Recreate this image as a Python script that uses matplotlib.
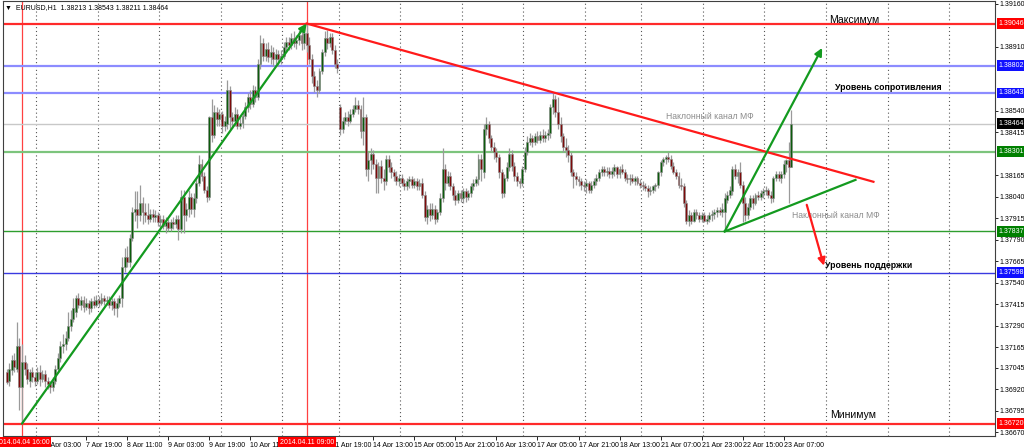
import numpy as np
import matplotlib
matplotlib.use("Agg")
import matplotlib.pyplot as plt
from matplotlib.transforms import blended_transform_factory

plt.rcParams['font.family'] = ['Liberation Sans', 'DejaVu Sans']

# EURUSD H1 candles (index = bar number)
opens = [
    1.3702, 1.3697, 1.3703, 1.3709, 1.3704, 1.3717, 1.3693, 1.3708, 1.3704, 1.3697,
    1.3702, 1.3699, 1.3697, 1.3702, 1.3698, 1.3701, 1.3697, 1.3695, 1.3693, 1.3697,
    1.3704, 1.3710, 1.3717, 1.3718, 1.3722, 1.3729, 1.3733, 1.3737, 1.3745, 1.3741,
    1.3744, 1.3740, 1.3742, 1.3739, 1.3743, 1.3741, 1.3744, 1.3742, 1.3745, 1.3743,
    1.3744, 1.3741, 1.3743, 1.3739, 1.3742, 1.3745, 1.3763, 1.3769, 1.3766, 1.3780,
    1.3795, 1.3797, 1.3793, 1.3800, 1.3795, 1.3793, 1.3791, 1.3794, 1.3792, 1.3793,
    1.3789, 1.3791, 1.3787, 1.3789, 1.3786, 1.3789, 1.3788, 1.3791, 1.3785, 1.3804,
    1.3793, 1.3797, 1.3804, 1.3797, 1.3803, 1.3812, 1.3823, 1.3816, 1.3808, 1.3804,
    1.3850, 1.3840, 1.3853, 1.3849, 1.3852, 1.3845, 1.3846, 1.3866, 1.3850, 1.3848,
    1.3852, 1.3845, 1.3847, 1.3851, 1.3856, 1.3862, 1.3858, 1.3866, 1.3862, 1.3881,
    1.3893, 1.3886, 1.3890, 1.3885, 1.3888, 1.3884, 1.3887, 1.3884, 1.3886, 1.3891,
    1.3894, 1.3892, 1.3896, 1.3893, 1.3895, 1.3898, 1.3893, 1.3899, 1.3892, 1.3884,
    1.3874, 1.3868, 1.3866, 1.3877, 1.3888, 1.3896, 1.3893, 1.3897, 1.3889, 1.3881,
    1.3856, 1.3843, 1.3848, 1.3850, 1.3848, 1.3852, 1.3855, 1.3857, 1.3855, 1.3842,
    1.3850, 1.3820, 1.3825, 1.3829, 1.3823, 1.3815, 1.3822, 1.3815, 1.3813, 1.3826,
    1.3821, 1.3818, 1.3816, 1.3813, 1.3815, 1.3812, 1.3810, 1.3813, 1.3814, 1.3811,
    1.3813, 1.3810, 1.3812, 1.3805, 1.3792, 1.3797, 1.3793, 1.3797, 1.3791, 1.3795,
    1.3803, 1.3820, 1.3812, 1.3816, 1.3810, 1.3805, 1.3802, 1.3806, 1.3803, 1.3807,
    1.3804, 1.3806, 1.3810, 1.3812, 1.3814, 1.3826, 1.3818, 1.3843, 1.3846, 1.3838,
    1.3833, 1.3830, 1.3827, 1.3818, 1.3806, 1.3815, 1.3821, 1.3829, 1.3822, 1.3816,
    1.3813, 1.3812, 1.3820, 1.3830, 1.3836, 1.3838, 1.3836, 1.3839, 1.3837, 1.3840,
    1.3838, 1.3840, 1.3841, 1.3856, 1.3861, 1.3853, 1.3846, 1.3839, 1.3833, 1.3831,
    1.3828, 1.3818, 1.3816, 1.3814, 1.3813, 1.3811, 1.3810, 1.3812, 1.3808, 1.3811,
    1.3813, 1.3815, 1.3818, 1.3820, 1.3818, 1.3819, 1.3817, 1.3819, 1.3821, 1.3817,
    1.3820, 1.3818, 1.3815, 1.3814, 1.3815, 1.3813, 1.3815, 1.3812, 1.3811, 1.3810,
    1.3809, 1.3807, 1.3808, 1.3810, 1.3811, 1.3818, 1.3824, 1.3826, 1.3827, 1.3826,
    1.3822, 1.3818, 1.3816, 1.3811, 1.3810, 1.3800, 1.3790, 1.3793, 1.3790, 1.3795,
    1.3793, 1.3791, 1.3793, 1.3790, 1.3791, 1.3793, 1.3794, 1.3795, 1.3796, 1.3795,
    1.3795, 1.3802, 1.3805, 1.3807, 1.3820, 1.3816, 1.3818, 1.3811, 1.3800, 1.3793,
    1.3798, 1.3803, 1.3800, 1.3805, 1.3804, 1.3806, 1.3807, 1.3808, 1.3805, 1.3803,
    1.3815, 1.3817, 1.3815, 1.3817, 1.3823, 1.3825, 1.38213,
]
highs = [
    1.3704, 1.3707, 1.3712, 1.3713, 1.3731, 1.3722, 1.3718, 1.3712, 1.3707, 1.3704,
    1.3705, 1.3702, 1.3705, 1.3706, 1.3703, 1.3703, 1.3699, 1.3697, 1.3699, 1.3706,
    1.3713, 1.3720, 1.3724, 1.3726, 1.3737, 1.3738, 1.3745, 1.3747, 1.3748, 1.3746,
    1.3746, 1.3745, 1.3744, 1.3745, 1.3746, 1.3747, 1.3746, 1.3748, 1.3747, 1.3746,
    1.3746, 1.3745, 1.3745, 1.3745, 1.3747, 1.3769, 1.3774, 1.3775, 1.3782, 1.3798,
    1.3807, 1.3807, 1.3811, 1.3804, 1.3800, 1.3800, 1.3797, 1.3797, 1.3796, 1.3795,
    1.3793, 1.3793, 1.3792, 1.3791, 1.3791, 1.3792, 1.3793, 1.3793, 1.3808, 1.3808,
    1.3800, 1.3808, 1.3806, 1.3806, 1.3815, 1.3828, 1.3826, 1.3818, 1.3810, 1.3851,
    1.3861, 1.3857, 1.3856, 1.3855, 1.3854, 1.3851, 1.3872, 1.3868, 1.3853, 1.3856,
    1.3855, 1.3850, 1.3853, 1.3859, 1.3864, 1.3866, 1.3869, 1.3868, 1.3884, 1.3898,
    1.3896, 1.3893, 1.3894, 1.3892, 1.3891, 1.3890, 1.3889, 1.3889, 1.3894, 1.3897,
    1.3897, 1.3899, 1.3900, 1.3898, 1.3901, 1.3902, 1.3902, 1.39046, 1.3897, 1.3887,
    1.3877, 1.3872, 1.3879, 1.3890, 1.3900, 1.3901, 1.3899, 1.3899, 1.3892, 1.3884,
    1.3858, 1.3850, 1.3853, 1.3854, 1.3855, 1.3857, 1.3862, 1.3860, 1.3857, 1.3862,
    1.3852, 1.3830, 1.3832, 1.3831, 1.3826, 1.3824, 1.3825, 1.3820, 1.3828, 1.3828,
    1.3824, 1.3820, 1.3819, 1.3817, 1.3817, 1.3814, 1.3815, 1.3816, 1.3816, 1.3815,
    1.3815, 1.3814, 1.3815, 1.3807, 1.3799, 1.3800, 1.3800, 1.3799, 1.3797, 1.3806,
    1.3832, 1.3823, 1.3819, 1.3818, 1.3812, 1.3808, 1.3808, 1.3808, 1.3809, 1.3809,
    1.3808, 1.3812, 1.3814, 1.3816, 1.3829, 1.3829, 1.3846, 1.3850, 1.3848, 1.3840,
    1.3836, 1.3832, 1.3829, 1.3820, 1.3817, 1.3824, 1.3832, 1.3831, 1.3824, 1.3818,
    1.3815, 1.3822, 1.3833, 1.3839, 1.3841, 1.3840, 1.3841, 1.3842, 1.3842, 1.3843,
    1.3842, 1.3843, 1.3858, 1.38643, 1.3863, 1.3862, 1.3850, 1.3841, 1.3838, 1.3834,
    1.3830, 1.3820, 1.3818, 1.3816, 1.3815, 1.3813, 1.3814, 1.3813, 1.3813, 1.3815,
    1.3817, 1.3820, 1.3822, 1.3822, 1.3821, 1.3821, 1.3821, 1.3823, 1.3822, 1.3822,
    1.3823, 1.3820, 1.3817, 1.3817, 1.3817, 1.3816, 1.3816, 1.3814, 1.3813, 1.3812,
    1.3811, 1.3810, 1.3811, 1.3812, 1.3819, 1.3825, 1.3827, 1.3828, 1.3830, 1.3828,
    1.3824, 1.3820, 1.3818, 1.3815, 1.3812, 1.3802, 1.3796, 1.3795, 1.3797, 1.3797,
    1.3795, 1.3795, 1.3795, 1.3793, 1.3795, 1.3796, 1.3797, 1.3798, 1.3798, 1.3800,
    1.3806, 1.3807, 1.3810, 1.3822, 1.3823, 1.3820, 1.3824, 1.3813, 1.3804, 1.3800,
    1.3805, 1.3805, 1.3806, 1.3807, 1.3808, 1.3809, 1.3810, 1.3809, 1.3807, 1.3816,
    1.3819, 1.3819, 1.3819, 1.3825, 1.3826, 1.3836, 1.38543,
]
lows = [
    1.3695, 1.3694, 1.3700, 1.3702, 1.3702, 1.3680, 1.3672, 1.3700, 1.3695, 1.3693,
    1.3696, 1.3694, 1.3695, 1.3694, 1.3696, 1.3693, 1.3692, 1.3690, 1.3691, 1.3695,
    1.3702, 1.3708, 1.3713, 1.3715, 1.3720, 1.3726, 1.3731, 1.3734, 1.3739, 1.3738,
    1.3737, 1.3738, 1.3736, 1.3737, 1.3739, 1.3740, 1.3740, 1.3741, 1.3741, 1.3741,
    1.3739, 1.3738, 1.3735, 1.3734, 1.3740, 1.3740, 1.3760, 1.3763, 1.3763, 1.3778,
    1.3790, 1.3786, 1.3790, 1.3788, 1.3789, 1.3788, 1.3789, 1.3789, 1.3789, 1.3787,
    1.3786, 1.3785, 1.3783, 1.3784, 1.3784, 1.3785, 1.3786, 1.3779, 1.3783, 1.3783,
    1.3790, 1.3792, 1.3794, 1.3792, 1.3800, 1.3810, 1.3813, 1.3806, 1.3801, 1.3802,
    1.3836, 1.3838, 1.3845, 1.3845, 1.3841, 1.3842, 1.3843, 1.3843, 1.3844, 1.3845,
    1.3843, 1.3843, 1.3844, 1.3849, 1.3853, 1.3855, 1.3856, 1.3859, 1.3860, 1.3878,
    1.3883, 1.3883, 1.3882, 1.3881, 1.3880, 1.3881, 1.3880, 1.3881, 1.3884, 1.3888,
    1.3889, 1.3890, 1.3891, 1.3890, 1.3892, 1.3889, 1.3890, 1.3888, 1.3881, 1.3870,
    1.3865, 1.3862, 1.3864, 1.3875, 1.3886, 1.3890, 1.3891, 1.3887, 1.3879, 1.3876,
    1.3840, 1.3841, 1.3846, 1.3845, 1.3847, 1.3850, 1.3853, 1.3852, 1.3838, 1.3834,
    1.3816, 1.3813, 1.3817, 1.3820, 1.3806, 1.3806, 1.3812, 1.3808, 1.3811, 1.3818,
    1.3815, 1.3813, 1.3811, 1.3810, 1.3810, 1.3808, 1.3808, 1.3809, 1.3809, 1.3809,
    1.3808, 1.3808, 1.3803, 1.3790, 1.3788, 1.3790, 1.3791, 1.3788, 1.3789, 1.3793,
    1.3801, 1.3808, 1.3810, 1.3808, 1.3802, 1.3799, 1.3800, 1.3801, 1.3800, 1.3801,
    1.3802, 1.3804, 1.3808, 1.3810, 1.3811, 1.3813, 1.3815, 1.3840, 1.3835, 1.3830,
    1.3826, 1.3824, 1.3815, 1.3803, 1.3804, 1.3813, 1.3819, 1.3819, 1.3813, 1.3810,
    1.3809, 1.3810, 1.3818, 1.3828, 1.3834, 1.3833, 1.3834, 1.3835, 1.3835, 1.3836,
    1.3836, 1.3837, 1.3838, 1.3852, 1.3850, 1.3843, 1.3836, 1.3830, 1.3827, 1.3824,
    1.3816, 1.3809, 1.3811, 1.3810, 1.3808, 1.3807, 1.3806, 1.3806, 1.3806, 1.3809,
    1.3811, 1.3813, 1.3816, 1.3816, 1.3816, 1.3815, 1.3815, 1.3816, 1.3815, 1.3815,
    1.3817, 1.3813, 1.3812, 1.3811, 1.3812, 1.3811, 1.3811, 1.3809, 1.3808, 1.3807,
    1.3804, 1.3805, 1.3806, 1.3807, 1.3809, 1.3816, 1.3822, 1.3823, 1.3824, 1.3820,
    1.3817, 1.3814, 1.3809, 1.3808, 1.3798, 1.3788, 1.3787, 1.3788, 1.3789, 1.3791,
    1.3789, 1.3789, 1.3789, 1.3788, 1.3789, 1.3790, 1.3791, 1.3792, 1.3793, 1.3792,
    1.37837, 1.3800, 1.3803, 1.3805, 1.3814, 1.3812, 1.3809, 1.3789, 1.3790, 1.3791,
    1.3796, 1.3797, 1.3799, 1.3802, 1.3802, 1.3803, 1.3805, 1.3803, 1.3800, 1.3801,
    1.3813, 1.3813, 1.3812, 1.3815, 1.3818, 1.3800, 1.38211,
]
closes = [
    1.3696, 1.3704, 1.3709, 1.3705, 1.3717, 1.3693, 1.3708, 1.3704, 1.3698, 1.3702,
    1.3699, 1.3697, 1.3702, 1.3698, 1.3701, 1.3697, 1.3695, 1.3693, 1.3697, 1.3704,
    1.3710, 1.3717, 1.3718, 1.3722, 1.3729, 1.3733, 1.3739, 1.3745, 1.3741, 1.3744,
    1.3740, 1.3742, 1.3739, 1.3743, 1.3741, 1.3744, 1.3742, 1.3745, 1.3743, 1.3744,
    1.3741, 1.3743, 1.3739, 1.3742, 1.3745, 1.3763, 1.3769, 1.3766, 1.3780, 1.3795,
    1.3797, 1.3793, 1.3800, 1.3795, 1.3793, 1.3791, 1.3794, 1.3792, 1.3793, 1.3789,
    1.3791, 1.3787, 1.3789, 1.3786, 1.3789, 1.3788, 1.3791, 1.3785, 1.3804, 1.3793,
    1.3797, 1.3804, 1.3797, 1.3803, 1.3812, 1.3823, 1.3816, 1.3808, 1.3804, 1.3850,
    1.3840, 1.3853, 1.3849, 1.3852, 1.3845, 1.3848, 1.3866, 1.3850, 1.3848, 1.3852,
    1.3845, 1.3847, 1.3851, 1.3856, 1.3862, 1.3858, 1.3866, 1.3862, 1.3881, 1.3893,
    1.3886, 1.3890, 1.3885, 1.3888, 1.3884, 1.3887, 1.3884, 1.3886, 1.3891, 1.3894,
    1.3892, 1.3896, 1.3893, 1.3895, 1.3898, 1.3893, 1.3899, 1.3892, 1.3884, 1.3874,
    1.3868, 1.3866, 1.3877, 1.3888, 1.3896, 1.3893, 1.3897, 1.3889, 1.3881, 1.3879,
    1.3843, 1.3848, 1.3850, 1.3848, 1.3852, 1.3855, 1.3857, 1.3855, 1.3842, 1.3850,
    1.3820, 1.3825, 1.3829, 1.3823, 1.3815, 1.3822, 1.3815, 1.3813, 1.3826, 1.3821,
    1.3818, 1.3816, 1.3813, 1.3815, 1.3812, 1.3810, 1.3813, 1.3814, 1.3811, 1.3813,
    1.3810, 1.3812, 1.3805, 1.3792, 1.3797, 1.3793, 1.3797, 1.3791, 1.3795, 1.3803,
    1.3820, 1.3812, 1.3816, 1.3810, 1.3805, 1.3802, 1.3806, 1.3803, 1.3807, 1.3804,
    1.3806, 1.3810, 1.3812, 1.3814, 1.3826, 1.3820, 1.3843, 1.3846, 1.3838, 1.3833,
    1.3830, 1.3827, 1.3818, 1.3806, 1.3815, 1.3821, 1.3829, 1.3822, 1.3816, 1.3813,
    1.3812, 1.3820, 1.3830, 1.3836, 1.3838, 1.3836, 1.3839, 1.3837, 1.3840, 1.3838,
    1.3840, 1.3841, 1.3856, 1.3861, 1.3853, 1.3846, 1.3839, 1.3833, 1.3831, 1.3828,
    1.3818, 1.3816, 1.3814, 1.3813, 1.3811, 1.3810, 1.3812, 1.3808, 1.3811, 1.3813,
    1.3815, 1.3818, 1.3820, 1.3818, 1.3819, 1.3817, 1.3819, 1.3821, 1.3817, 1.3820,
    1.3818, 1.3815, 1.3814, 1.3815, 1.3813, 1.3815, 1.3812, 1.3811, 1.3810, 1.3809,
    1.3807, 1.3808, 1.3810, 1.3811, 1.3818, 1.3824, 1.3826, 1.3827, 1.3826, 1.3822,
    1.3818, 1.3816, 1.3811, 1.3810, 1.3800, 1.3790, 1.3793, 1.3790, 1.3795, 1.3793,
    1.3791, 1.3793, 1.3790, 1.3791, 1.3793, 1.3794, 1.3795, 1.3796, 1.3795, 1.3797,
    1.3803, 1.3805, 1.3808, 1.3820, 1.3816, 1.3818, 1.3811, 1.3800, 1.3793, 1.3798,
    1.3803, 1.3800, 1.3805, 1.3804, 1.3806, 1.3807, 1.3808, 1.3805, 1.3803, 1.3815,
    1.3817, 1.3815, 1.3817, 1.3823, 1.3825, 1.3821, 1.38464,
]

# horizontal levels drawn on the chart
level_prices = [1.39046, 1.38802, 1.38643, 1.38464, 1.38301, 1.37837, 1.37598, 1.36720]
level_colors = ['#ff2a2a', '#8c8cff', '#8c8cff', '#c8c8c8', '#7cc47c', '#2e9e2e', '#3a3ae0', '#ff2a2a']
level_widths = [1.6, 1.6, 1.6, 1.0, 1.6, 1.0, 1.0, 1.6]
level_boxes = ['#ff0000', '#1010ff', '#1010ff', '#000000', '#008000', '#008000', '#1010ff', '#ff0000']

price_ticks = [1.39160, 1.38910, 1.38540, 1.38415, 1.38165, 1.38040, 1.37915, 1.37790,
               1.37665, 1.37540, 1.37415, 1.37290, 1.37165, 1.37045, 1.36920, 1.36795, 1.36670]

time_ticks = [15, 31, 47, 63, 79, 95, 127, 143, 159, 175, 191, 207, 223, 239, 255, 271, 287, 303]
time_labels = ['7 Apr 03:00', '7 Apr 19:00', '8 Apr 11:00', '9 Apr 03:00', '9 Apr 19:00',
               '10 Apr 11:00', '11 Apr 19:00', '14 Apr 13:00', '15 Apr 05:00',
               '15 Apr 21:00', '16 Apr 13:00', '17 Apr 05:00', '17 Apr 21:00', '18 Apr 13:00',
               '21 Apr 07:00', '21 Apr 23:00', '22 Apr 15:00', '23 Apr 07:00']
day_starts = [12, 36, 60, 84, 108, 130, 154, 178, 202, 226, 248, 272, 296, 320, 344, 368]
marked_bars = [6, 117]
marked_labels = ['2014.04.04 16:00', '2014.04.11 09:00']

# trend lines: (x0, x1), (p0, p1)
rise_x, rise_p = [6, 117], [1.36720, 1.39046]
resist_x, resist_p = [117, 338], [1.39046, 1.38126]
chan_x, chan_p = [280, 331], [1.37837, 1.38137]
break_up_x, break_up_p = [280, 318], [1.37837, 1.38904]
break_dn_x, break_dn_p = [312, 318.7], [1.37992, 1.37638]

n = len(closes)
idx = np.arange(n)
o = np.array(opens); h = np.array(highs); l = np.array(lows); c = np.array(closes)
up = c >= o

fig = plt.figure(figsize=(10.24, 4.47), dpi=100)
ax = fig.add_axes([3 / 1024, 11 / 447, 992 / 1024, 435 / 447])
ax.set_xlim(-1.4, 385.4)
ax.set_ylim(1.36648, 1.39177)

for d in day_starts:
    ax.axvline(d - 0.5, color='#555555', lw=0.8, ls=(0, (1, 2.5)), zorder=1)
for b in marked_bars:
    ax.axvline(b, color='#ff4040', lw=0.9, zorder=1)
for p, col, w in zip(level_prices, level_colors, level_widths):
    ax.axhline(p, color=col, lw=w, zorder=1.5)

ax.vlines(idx, l, h, color='#9a9a9a', lw=0.9, zorder=2)
body = np.where(np.abs(c - o) < 0.00002, 0.00002, c - o)
ax.bar(idx[up], body[up], bottom=o[up], width=0.75, color='#0c5c0c',
       edgecolor='#8a8a8a', lw=0.4, zorder=3)
ax.bar(idx[~up], body[~up], bottom=o[~up], width=0.75, color='#7d0b0b',
       edgecolor='#8a8a8a', lw=0.4, zorder=3)

red, green = '#ff1a1a', '#139a1f'
ax.plot(resist_x, resist_p, color=red, lw=1.6, zorder=4)
ax.plot(chan_x, chan_p, color=green, lw=1.6, zorder=4)
for xs, ps, col in [(rise_x, rise_p, green), (break_up_x, break_up_p, green),
                    (break_dn_x, break_dn_p, red)]:
    ax.annotate('', xy=(xs[1], ps[1]), xytext=(xs[0], ps[0]),
                arrowprops=dict(arrowstyle='-|>', color=col, lw=1.6,
                                mutation_scale=11, shrinkA=0, shrinkB=0), zorder=4)

ax.text(320.6, 1.39067, 'Максимум', fontsize=7.5, va='center', ha='left')
ax.text(323, 1.38672, 'Уровень сопротивления', fontsize=6.3, fontweight='bold', va='center')
ax.text(257, 1.38503, 'Наклонный канал МФ', fontsize=6.2, color='#8c8c8c', va='center')
ax.text(306.2, 1.37928, 'Наклонный канал МФ', fontsize=6.2, color='#8c8c8c', va='center')
ax.text(319, 1.37637, 'Уровень поддержки', fontsize=6.3, fontweight='bold', va='center')
ax.text(321, 1.36771, 'Минимум', fontsize=7.5, va='center')

ax.yaxis.tick_right()
ax.set_yticks(price_ticks)
ax.set_yticklabels([f'{p:.5f}' for p in price_ticks])
ax.tick_params(axis='y', labelsize=5, length=2, pad=1.5, width=0.6)
ax.set_xticks(time_ticks)
ax.set_xticklabels(time_labels, ha='left')
ax.tick_params(axis='x', labelsize=5, length=3, pad=1, width=0.6)
for s in ax.spines.values():
    s.set_linewidth(0.8)
    s.set_color('#404040')

ytr = blended_transform_factory(ax.transAxes, ax.transData)
for p, bc in zip(level_prices, level_boxes):
    ax.text(1.0035, p, f'{p:.5f}', transform=ytr, fontsize=5, color='white',
            va='center', ha='left', clip_on=False, zorder=6,
            bbox=dict(boxstyle='square,pad=0.25', fc=bc, ec='none'))

xtr = blended_transform_factory(ax.transData, ax.transAxes)
for b, lab in zip(marked_bars, marked_labels):
    ax.text(b, -0.014, lab, transform=xtr, fontsize=5, color='white', ha='center',
            va='center', clip_on=False, zorder=6,
            bbox=dict(boxstyle='square,pad=0.25', fc='#ff0000', ec='none'))

fig.text(5 / 1024, 1 - 8 / 447, '▼  EURUSD,H1  1.38213 1.38543 1.38211 1.38464',
         fontsize=5, va='center', ha='left')

fig.savefig('out.png', dpi=100)
